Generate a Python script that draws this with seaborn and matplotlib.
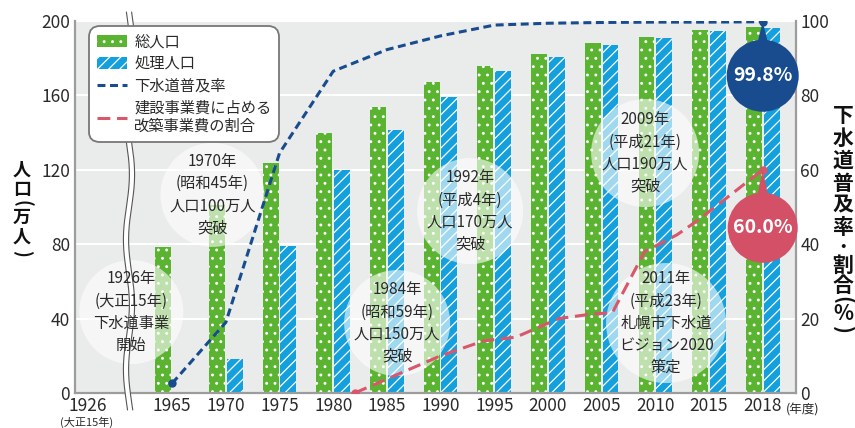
import numpy as np
import pandas as pd
import matplotlib.pyplot as plt
import seaborn as sns
from matplotlib.patches import Circle, Patch, Polygon
from matplotlib.lines import Line2D
from matplotlib.transforms import IdentityTransform

# データ
years = ["1965", "1970", "1975", "1980", "1985", "1990",
         "1995", "2000", "2005", "2010", "2015", "2018"]
total_pop = [78.5, 101.0, 123.7, 139.8, 153.8, 167.2,
             175.8, 182.3, 188.2, 191.4, 195.2, 196.8]
served_pop = [0.0, 18.3, 79.0, 120.0, 141.4, 159.0,
              173.0, 180.6, 187.0, 190.9, 194.6, 196.2]
rate_years = [1965, 1970, 1975, 1980, 1985, 1990, 1995, 2000, 2005, 2010, 2015, 2018]
sewer_rate = [2.6, 19.0, 64.5, 86.5, 92.3, 96.0, 98.9, 99.4, 99.6, 99.7, 99.7, 99.8]
renew_years = [1982, 1990, 1994, 1997, 1999, 2001, 2004, 2006, 2009, 2012, 2014, 2018]
renew_share = [0.0, 10.0, 14.0, 15.0, 17.5, 20.0, 21.2, 21.6, 38.0, 42.5, 46.5, 60.0]

notes = [
    (-0.76, 43.5, 52, "1926年\n(大正15年)\n下水道事業\n開始"),
    (0.75, 106.5, 52, "1970年\n(昭和45年)\n人口100万人\n突破"),
    (4.19, 37.6, 53, "1984年\n(昭和59年)\n人口150万人\n突破"),
    (5.55, 97.8, 53, "1992年\n(平成4年)\n人口170万人\n突破"),
    (8.81, 129.0, 54, "2009年\n(平成21年)\n人口190万人\n突破"),
    (9.20, 37.6, 60, "2011年\n(平成23年)\n札幌市下水道\nビジョン2020\n策定"),
]

GREEN = "#5bb431"
BLUE = "#13a0dc"
NAVY = "#184c8e"
RED = "#d9566b"
BADGE_RED = "#d35066"
BG = "#eaebeb"
TXT = "#2a2a2a"


def year_pos(y):
    # 1965〜2015は5年刻み、2015→2018は1目盛
    return (y - 1965) / 5 if y <= 2015 else 10 + (y - 2015) / 3


def vertical_label(x, chars, ys, size):
    # 縦書き: 1文字ずつ置く。括弧は回転させて縦書き用の形にする
    for ch, y in zip(chars, ys):
        if ch in "()":
            fig.text(x / 855, 1 - y / 428, ch, ha="center", va="center",
                     rotation=-90, fontsize=size, fontweight="bold",
                     color="#111111")
        else:
            fs = size * 0.75 if ch == "・" else size
            fig.text(x / 855, 1 - y / 428, ch, ha="center", va="center",
                     fontsize=fs, fontweight="bold", color="#111111")


sns.set_style("white")
plt.rcParams["font.family"] = ["Noto Sans CJK JP", "DejaVu Sans"]
plt.rcParams["hatch.linewidth"] = 0.9

fig = plt.figure(figsize=(8.55, 4.28), dpi=100)
ax = fig.add_axes([75 / 855, 35 / 428, 721 / 855, 372 / 428])
ax.set_facecolor(BG)

df = pd.DataFrame({
    "year": years * 2,
    "value": total_pop + served_pop,
    "series": ["総人口"] * len(years) + ["処理人口"] * len(years),
})
sns.barplot(data=df, x="year", y="value", hue="series", order=years,
            hue_order=["総人口", "処理人口"], palette=[GREEN, BLUE],
            saturation=1, width=0.66, gap=0.1, errorbar=None,
            legend=False, ax=ax, zorder=2)
for cont, hatch in zip(ax.containers, ["..", "///"]):
    for bar in cont:
        bar.set_hatch(hatch)
        bar.set_edgecolor("white")
        bar.set_linewidth(0)

ax2 = ax.twinx()
rate_x = [year_pos(y) for y in rate_years]
renew_x = [year_pos(y) for y in renew_years]
sns.lineplot(x=rate_x, y=sewer_rate, ax=ax2, color=NAVY, lw=2.2,
             linestyle=(0, (2.6, 1.5)), sort=False, zorder=5)
sns.lineplot(x=renew_x, y=renew_share, ax=ax2, color=RED, lw=2.2,
             linestyle=(0, (4.2, 2.2)), sort=False, zorder=5)
ax2.scatter([rate_x[0], rate_x[-1]], [sewer_rate[0], sewer_rate[-1]],
            s=36, color=NAVY, zorder=6, linewidths=0)
ax2.scatter([renew_x[0], renew_x[-1]], [renew_share[0], renew_share[-1]],
            s=36, color=RED, zorder=6, linewidths=0)

# 軸
ax.set_xlim(-1.81, 11.62)
ax.set_ylim(0, 200)
ax2.set_ylim(0, 100)
ax.set_yticks([0, 40, 80, 120, 160, 200])
ax2.set_yticks([0, 20, 40, 60, 80, 100])
ax.set_xticks([-1.58] + list(range(len(years))), ["1926"] + years)
ax.grid(axis="y", color="white", lw=1.5)
ax.set_axisbelow(True)
ax.set_xlabel("")
ax.set_ylabel("")
ax2.set_ylabel("")
ax.tick_params(length=0, labelsize=12.5, labelcolor=TXT)
ax.tick_params(axis="y", pad=3.5)
ax.tick_params(axis="x", pad=3)
ax2.tick_params(length=0, labelsize=12.5, labelcolor=TXT, pad=3)
for s in ["left", "bottom"]:
    ax.spines[s].set_color("#9c9c9c")
    ax.spines[s].set_linewidth(1.6)
for s in ["top", "right"]:
    ax.spines[s].set_visible(False)
for s in ["left", "bottom", "top"]:
    ax2.spines[s].set_visible(False)
ax2.spines["right"].set_color("#9c9c9c")
ax2.spines["right"].set_linewidth(1.6)

# 吹き出し（半透明の円）
for x, y, r, txt in notes:
    cx, cy = ax.transData.transform((x, y))
    ax.add_patch(Circle((cx, cy), r, transform=IdentityTransform(),
                        facecolor="white", alpha=0.6, lw=0,
                        zorder=4, clip_on=False))
    ax2.text(x, y, txt, transform=ax.transData, ha="center", va="center",
             fontsize=11, color=TXT, linespacing=1.4, zorder=7)

# 2018年の値バッジ
for xv, yv, col, off, r in [(rate_x[-1], sewer_rate[-1], NAVY, 54, 36),
                            (renew_x[-1], renew_share[-1], BADGE_RED, 58, 35)]:
    px, py = ax2.transData.transform((xv, yv))
    cy = py - off
    ax2.add_patch(Polygon([(px - 6, cy + r - 6), (px, py), (px + 6, cy + r - 6)],
                          closed=True, transform=IdentityTransform(),
                          facecolor=col, lw=0, zorder=8, clip_on=False))
    ax2.add_patch(Circle((px, cy), r, transform=IdentityTransform(),
                         facecolor=col, lw=0, zorder=8, clip_on=False))
    ax2.text(px, cy, f"{yv:.1f}%", transform=IdentityTransform(),
             ha="center", va="center", fontsize=14, fontweight="bold",
             color="white", zorder=9)

# 波線（軸の省略）
ys = np.linspace(12, 410, 200)
xs = 129 + 3 * np.sin(2 * np.pi * (ys - 12) / 130)
ax2.plot(xs / 855, 1 - ys / 428, transform=fig.transFigure, color="white",
         lw=4, zorder=4.5, clip_on=False, solid_capstyle="butt")
for dx in (-2.6, 2.6):
    ax2.plot((xs + dx) / 855, 1 - ys / 428, transform=fig.transFigure,
             color="#555555", lw=0.8, zorder=4.6, clip_on=False)

# 凡例
handles = [
    Patch(facecolor=GREEN, edgecolor="white", hatch="..", linewidth=0),
    Patch(facecolor=BLUE, edgecolor="white", hatch="///", linewidth=0),
    Line2D([], [], color=NAVY, lw=2.2, linestyle=(0, (2.6, 1.5))),
    Line2D([], [], color=RED, lw=2.2, linestyle=(0, (4.2, 2.2))),
]
labels = ["総人口", "処理人口", "下水道普及率", "建設事業費に占める\n改築事業費の割合"]
leg = ax2.legend(handles, labels, loc="upper left",
                 bbox_to_anchor=(14 / 721, 367 / 372), borderaxespad=0,
                 fontsize=11, handlelength=1.96, handleheight=0.8,
                 handletextpad=0.5, labelspacing=0.32, borderpad=0.5,
                 frameon=True, fancybox=True, framealpha=1,
                 edgecolor="#777777")
leg.get_frame().set_linewidth(1.3)
leg.get_frame().set_boxstyle("round", pad=0, rounding_size=0.7)
leg.set_zorder(10)
for t in leg.get_texts():
    t.set_color(TXT)
    t.set_linespacing(1.1)

# 縦書きの軸ラベル
vertical_label(22, "人口(万人)", [170, 189, 203, 217, 237, 253], 13)
vertical_label(843, "下水道普及率・割合(%)",
               [115, 138, 160, 183, 205, 228, 247, 265, 286, 300, 314, 330], 15)

fig.text(87 / 855, 1 - 427.5 / 428, "(大正15年)", ha="center", va="bottom",
         fontsize=8, color=TXT)
fig.text(803 / 855, 1 - 410 / 428, "(年度)", ha="center", va="center",
         fontsize=9, color=TXT)

fig.savefig("out.png", dpi=100)
